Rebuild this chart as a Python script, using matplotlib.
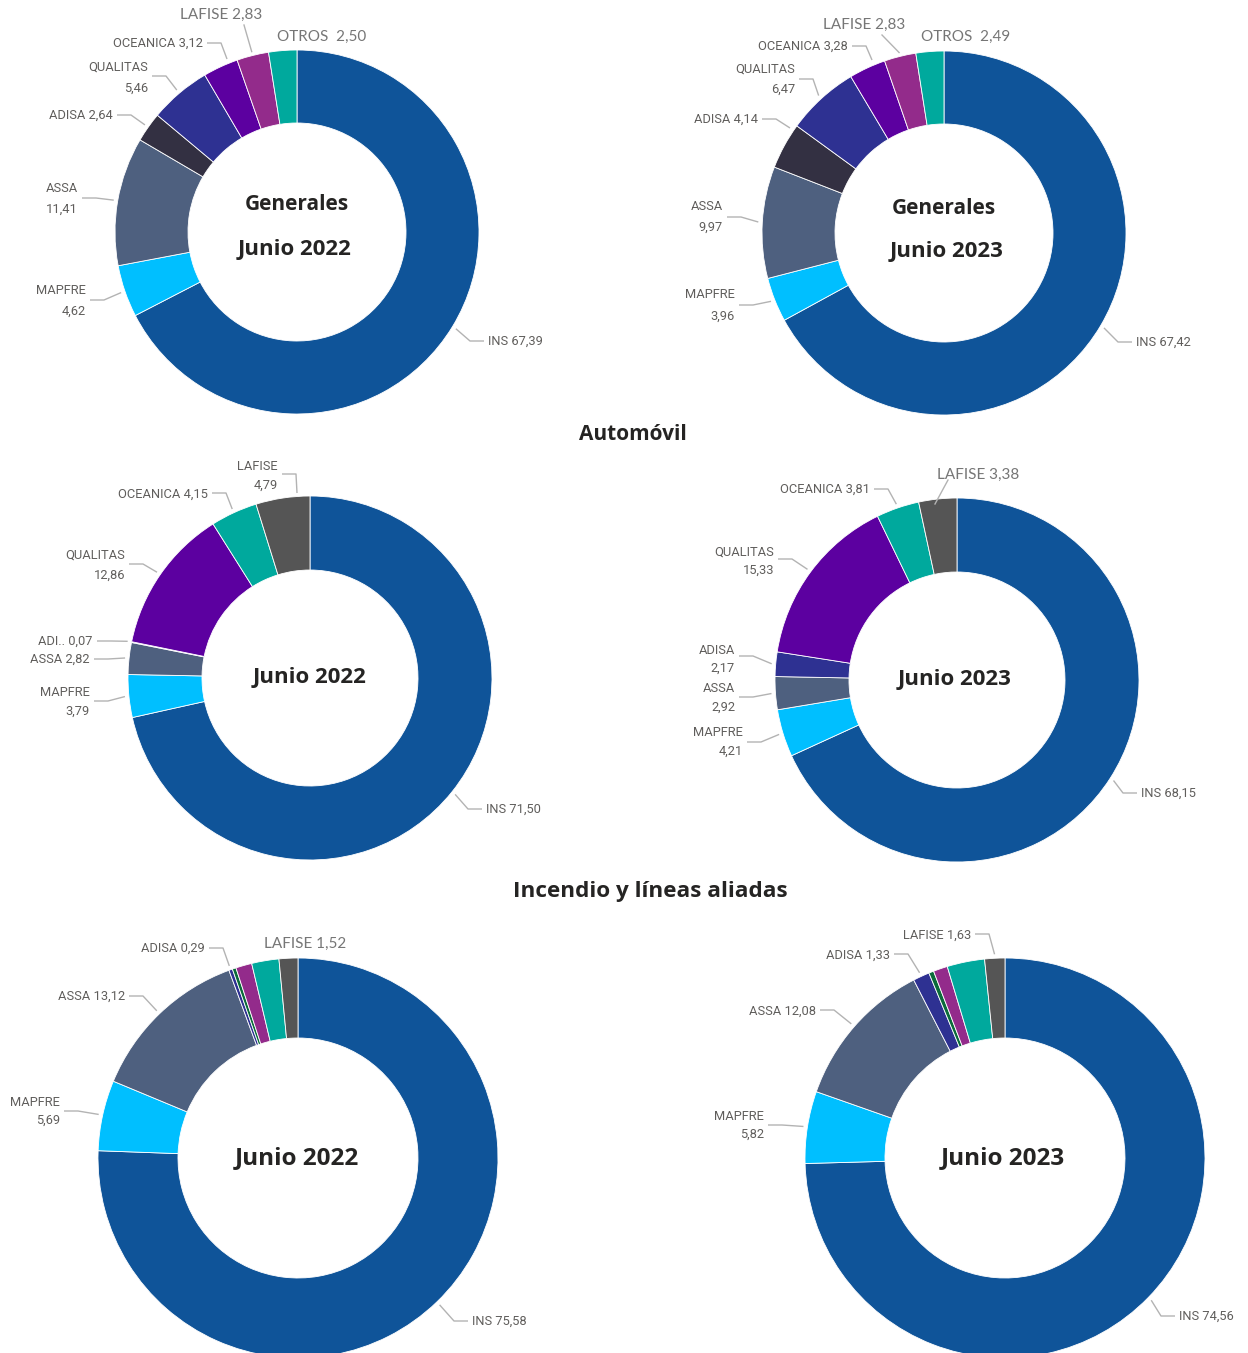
import matplotlib
matplotlib.use("Agg")
import matplotlib.pyplot as plt
import numpy as np

W, H = 1248, 1353

# ---------------- data ----------------
gen_labels = ["INS", "MAPFRE", "ASSA", "ADISA", "QUALITAS", "OCEANICA", "LAFISE", "OTROS"]
gen_2022 = [67.39, 4.62, 11.41, 2.64, 5.46, 3.12, 2.83, 2.50]
gen_2023 = [67.42, 3.96, 9.97, 4.14, 6.47, 3.28, 2.83, 2.49]

auto_labels = ["INS", "MAPFRE", "ASSA", "ADISA", "QUALITAS", "OCEANICA", "LAFISE"]
auto_2022 = [71.50, 3.79, 2.82, 0.07, 12.86, 4.15, 4.79]
auto_2023 = [68.15, 4.21, 2.92, 2.17, 15.33, 3.81, 3.38]

# the three small unlabeled slices in the source are estimated from their size
inc_labels = ["INS", "MAPFRE", "ASSA", "ADISA", "SIN ETIQUETA 1", "SIN ETIQUETA 2", "SIN ETIQUETA 3", "LAFISE"]
inc_2022 = [75.58, 5.69, 13.12, 0.29, 0.30, 1.30, 2.20, 1.52]
inc_2023 = [74.56, 5.82, 12.08, 1.33, 0.40, 1.15, 3.03, 1.63]

# ---------------- styles ----------------
C_INS, C_MAPFRE, C_ASSA = "#0F5499", "#00BFFF", "#4E607F"
C_DARK, C_INDIGO, C_PURPLE = "#333042", "#2E3192", "#5C00A0"
C_MAGENTA, C_TEAL, C_GRAY, C_GREEN = "#932B8B", "#00A99D", "#555555", "#0B6B3A"

gen_colors = [C_INS, C_MAPFRE, C_ASSA, C_DARK, C_INDIGO, C_PURPLE, C_MAGENTA, C_TEAL]
auto_colors = [C_INS, C_MAPFRE, C_ASSA, C_INDIGO, C_PURPLE, C_TEAL, C_GRAY]
inc_colors = [C_INS, C_MAPFRE, C_ASSA, C_INDIGO, C_GREEN, C_MAGENTA, C_TEAL, C_GRAY]

SMALL_FONT = ["Roboto", "DejaVu Sans"]
BIG_FONT = ["Lato", "DejaVu Sans"]
BOLD_FONT = ["Open Sans", "DejaVu Sans"]
LBL_COLOR = "#605E5C"
BIG_COLOR = "#767676"
LINE_COLOR = "#B3B3B3"
TXT_DARK = "#252423"

fig = plt.figure(figsize=(W / 100, H / 100), dpi=100)
ax = fig.add_axes([0, 0, 1, 1])


def fmt(v):
    return f"{v:.2f}".replace(".", ",")


def donut(cx, cy, r, ring, values, colors, labels, spec, centre):
    ax.pie(values, colors=colors, startangle=90, counterclock=False,
           radius=r, center=(cx, H - cy),
           wedgeprops=dict(width=ring, edgecolor="white", linewidth=0.6))
    tot = float(sum(values))
    cum = np.cumsum([0] + list(values))[:-1]
    for name, s in spec.items():
        i = labels.index(name)
        v = values[i]
        mid = 90 - 360 * (cum[i] + v / 2) / tot
        wx = cx + (r + 4) * np.cos(np.radians(mid))
        wy = (H - cy) + (r + 4) * np.sin(np.radians(mid))
        if "end" in s:
            wx, wy = s["end"][0], H - s["end"][1]
        kind = s["kind"]
        big = s.get("big", False)
        fam = BIG_FONT if big else SMALL_FONT
        size = 11 if big else 9.3
        col = BIG_COLOR if big else LBL_COLOR
        name_txt = s.get("name", name)
        sep = s.get("sep", " ")
        if s.get("ty2") is None:
            ax.text(s["tx"], H - s["ty"], f"{name_txt}{sep}{fmt(v)}", ha=s["ha"], va="center",
                    fontsize=size, family=fam, color=col)
        else:
            ax.text(s["tx"], H - s["ty"], name_txt, ha=s["ha"], va="center",
                    fontsize=size, family=fam, color=col)
            ax.text(s["tx"], H - s["ty2"], fmt(v), ha=s["ha"], va="center",
                    fontsize=size, family=fam, color=col)
        if kind == "h":
            sgn = 1 if s["ha"] == "right" else -1
            x0 = s["tx"] + sgn * 4
            x1 = s["tx"] + sgn * 18
            ly = H - s["ly"]
            ax.plot([x0, x1, wx], [ly, ly, wy], color=LINE_COLOR, lw=1, solid_capstyle="butt")
        elif kind == "v":
            ax.plot([s["lx"], wx], [H - s["ly"], wy], color=LINE_COLOR, lw=1)
    for txt, tx, ty, cs in centre:
        ax.text(tx, H - ty, txt, ha="center", va="center", fontsize=cs,
                fontweight="bold", family=BOLD_FONT, color=TXT_DARK)


# ---------- Generales ----------
donut(297, 232, 182, 73, gen_2022, gen_colors, gen_labels, {
    "INS": dict(tx=488, ty=341, ha="left", ly=341, kind="h"),
    "MAPFRE": dict(tx=86, ty=290, ty2=311, ha="right", ly=300, kind="h"),
    "ASSA": dict(tx=78, ty=188, ty2=209, ha="right", ly=198, kind="h"),
    "ADISA": dict(tx=113, ty=115, ha="right", ly=115, kind="h"),
    "QUALITAS": dict(tx=148, ty=67, ty2=88, ha="right", ly=76, kind="h"),
    "OCEANICA": dict(tx=203, ty=43, ha="right", ly=43, kind="h", end=(227, 59)),
    "LAFISE": dict(tx=221, ty=15, ha="center", lx=244, ly=25, kind="v", big=True),
    "OTROS": dict(tx=322, ty=37, ha="center", kind=None, big=True, sep="  "),
}, [("Generales", 297, 205, 15), ("Junio 2022", 295, 250, 16)])

donut(944, 233, 182, 73, gen_2023, gen_colors, gen_labels, {
    "INS": dict(tx=1136, ty=342, ha="left", ly=342, kind="h"),
    "MAPFRE": dict(tx=735, ty=295, ty2=316, ha="right", ly=305, kind="h"),
    "ASSA": dict(tx=723, ty=207, ty2=227, ha="right", ly=217, kind="h"),
    "ADISA": dict(tx=758, ty=119, ha="right", ly=119, kind="h", end=(790, 128)),
    "QUALITAS": dict(tx=795, ty=69, ty2=89, ha="right", ly=79, kind="h"),
    "OCEANICA": dict(tx=848, ty=46, ha="right", ly=46, kind="h", end=(872, 60)),
    "LAFISE": dict(tx=864, ty=25, ha="center", lx=882, ly=35, kind="v", big=True),
    "OTROS": dict(tx=966, ty=37, ha="center", kind=None, big=True, sep="  "),
}, [("Generales", 944, 208, 15), ("Junio 2023", 947, 251, 16)])

ax.text(633, H - 435, "Automóvil", ha="center", va="center", fontsize=15,
        fontweight="bold", family=BOLD_FONT, color=TXT_DARK)

# ---------- Automóvil ----------
donut(310, 678, 182, 74, auto_2022, auto_colors, auto_labels, {
    "INS": dict(tx=486, ty=809, ha="left", ly=809, kind="h"),
    "MAPFRE": dict(tx=90, ty=693, ty2=711, ha="right", ly=701, kind="h"),
    "ASSA": dict(tx=90, ty=659, ha="right", ly=659, kind="h"),
    "ADISA": dict(tx=93, ty=641, ha="right", ly=641, kind="h", name="ADI.."),
    "QUALITAS": dict(tx=125, ty=555, ty2=575, ha="right", ly=564, kind="h"),
    "OCEANICA": dict(tx=208, ty=494, ha="right", ly=493, kind="h"),
    "LAFISE": dict(tx=278, ty=467, ty2=485, ha="right", ly=474, kind="h", end=(297, 493)),
}, [("Junio 2022", 310, 678, 16)])

donut(957, 680, 182, 74, auto_2023, auto_colors, auto_labels, {
    "INS": dict(tx=1141, ty=793, ha="left", ly=793, kind="h"),
    "MAPFRE": dict(tx=743, ty=733, ty2=751, ha="right", ly=742, kind="h"),
    "ASSA": dict(tx=735, ty=689, ty2=707, ha="right", ly=697, kind="h"),
    "ADISA": dict(tx=735, ty=650, ty2=668, ha="right", ly=656, kind="h"),
    "QUALITAS": dict(tx=774, ty=552, ty2=570, ha="right", ly=559, kind="h"),
    "OCEANICA": dict(tx=870, ty=489, ha="right", ly=489, kind="h"),
    "LAFISE": dict(tx=978, ty=475, ha="center", lx=948, ly=480, kind="v", big=True, end=(935, 504)),
}, [("Junio 2023", 955, 680, 16)])

ax.text(650, H - 891, "Incendio y líneas aliadas", ha="center", va="center", fontsize=16.2,
        fontweight="bold", family=BOLD_FONT, color=TXT_DARK)

# ---------- Incendio ----------
donut(298, 1158, 200, 80, inc_2022, inc_colors, inc_labels, {
    "INS": dict(tx=472, ty=1321, ha="left", ly=1321, kind="h"),
    "MAPFRE": dict(tx=60, ty=1103, ty2=1120, ha="right", ly=1111, kind="h"),
    "ASSA": dict(tx=125, ty=996, ha="right", ly=996, kind="h"),
    "ADISA": dict(tx=205, ty=948, ha="right", ly=948, kind="h"),
    "LAFISE": dict(tx=305, ty=944, ha="center", kind=None, big=True),
}, [("Junio 2022", 297, 1158, 17.5)])

donut(1005, 1158, 200, 80, inc_2023, inc_colors, inc_labels, {
    "INS": dict(tx=1179, ty=1316, ha="left", ly=1316, kind="h"),
    "MAPFRE": dict(tx=764, ty=1116, ty2=1134, ha="right", ly=1125, kind="h"),
    "ASSA": dict(tx=816, ty=1011, ha="right", ly=1010, kind="h"),
    "ADISA": dict(tx=890, ty=955, ha="right", ly=954, kind="h"),
    "LAFISE": dict(tx=971, ty=935, ha="right", ly=934, kind="h"),
}, [("Junio 2023", 1003, 1158, 17.5)])

ax.set_xlim(0, W)
ax.set_ylim(0, H)
ax.set_aspect("equal")
ax.axis("off")
fig.savefig("out.png", dpi=100, facecolor="white")
